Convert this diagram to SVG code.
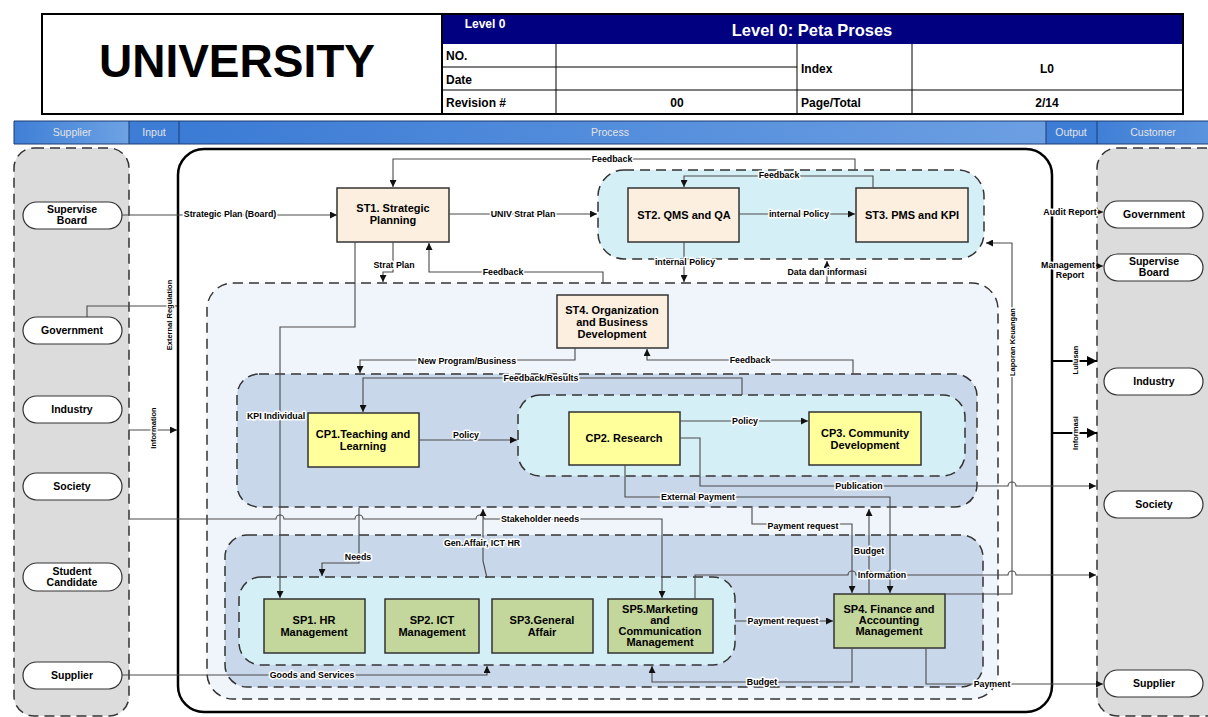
<svg xmlns="http://www.w3.org/2000/svg" width="1208" height="717" viewBox="0 0 1208 717">
<defs>
  <style>
    .t{font-family:"Liberation Sans",Arial,sans-serif;font-weight:bold;fill:#000}
    .bx{font-size:11px;text-anchor:middle}
    .pl{font-size:10.5px;text-anchor:middle}
    .lb{font-family:"Liberation Sans",Arial,sans-serif;font-weight:bold;font-size:8.8px;fill:#000;text-anchor:middle;stroke:#fff;stroke-width:3;paint-order:stroke;stroke-linejoin:round}
    .rl{font-size:7.5px}
    .band{font-family:"Liberation Sans",Arial,sans-serif;font-size:10.5px;fill:#e4e4e4;text-anchor:middle}
    .lane{fill:#dcdcdc;stroke:#333;stroke-width:1.5;stroke-dasharray:10 6}
    .pill{fill:#fff;stroke:#333;stroke-width:1.2}
    .dash{stroke:#333;stroke-width:1.5;stroke-dasharray:10 6}
    .st{fill:#fcefdf;stroke:#333;stroke-width:1.5}
    .cp{fill:#ffff9c;stroke:#333;stroke-width:1.5}
    .sp{fill:#c3d69b;stroke:#333;stroke-width:1.5}
    .c{fill:none;stroke:#4a4a4a;stroke-width:1.1}
    .a{marker-end:url(#ah)}
    .thick{fill:none;stroke:#000;stroke-width:2;marker-end:url(#ahb)}
  </style>
  <marker id="ah" viewBox="0 0 10 10" refX="10" refY="5" markerWidth="7" markerHeight="7" markerUnits="userSpaceOnUse" orient="auto">
    <path d="M0,0 L10,5 L0,10 z" fill="#111"/>
  </marker>
  <marker id="ahb" viewBox="0 0 10 10" refX="10" refY="5" markerWidth="11" markerHeight="10" markerUnits="userSpaceOnUse" orient="auto">
    <path d="M0,0 L10,5 L0,10 z" fill="#000"/>
  </marker>
  <linearGradient id="gSup" x1="0" x2="1" y1="0" y2="0">
    <stop offset="0" stop-color="#3f7fd6"/><stop offset="1" stop-color="#6ea2e4"/>
  </linearGradient>
  <linearGradient id="gProc" x1="0" x2="1" y1="0" y2="0">
    <stop offset="0" stop-color="#3b7bd5"/><stop offset="1" stop-color="#6c9fe2"/>
  </linearGradient>
  <linearGradient id="gCus" x1="0" x2="1" y1="0" y2="0">
    <stop offset="0" stop-color="#3f7fd6"/><stop offset="1" stop-color="#5b93de"/>
  </linearGradient>
</defs>

<rect width="1208" height="717" fill="#fff"/>

<!-- Title block -->
<g id="title">
  <rect x="42" y="14" width="400" height="100" fill="#fff" stroke="#000" stroke-width="2"/>
  <text class="t" x="237" y="77" font-size="46" text-anchor="middle">UNIVERSITY</text>
</g>

<!-- Document info table -->
<g id="doc-table">
  <rect x="442" y="14" width="741" height="30" fill="#000080"/>
  <text x="485" y="28" font-family="Liberation Sans,Arial,sans-serif" font-weight="bold" font-size="12" fill="#fff" text-anchor="middle">Level 0</text>
  <text x="812" y="36" font-family="Liberation Sans,Arial,sans-serif" font-weight="bold" font-size="16.5" fill="#fff" text-anchor="middle">Level 0: Peta Proses</text>
  <rect x="442" y="44" width="741" height="70" fill="#fff" stroke="none"/>
  <g stroke="#000" stroke-width="1" fill="none">
    <line x1="442" y1="67" x2="797" y2="67"/>
    <line x1="442" y1="90" x2="1183" y2="90"/>
    <line x1="556" y1="44" x2="556" y2="114"/>
    <line x1="797" y1="44" x2="797" y2="114"/>
    <line x1="912" y1="44" x2="912" y2="114"/>
  </g>
  <rect x="442" y="14" width="741" height="100" fill="none" stroke="#000" stroke-width="2"/>
  <g class="t" font-size="12">
    <text x="446" y="60">NO.</text>
    <text x="446" y="84">Date</text>
    <text x="446" y="107">Revision #</text>
    <text x="801" y="73">Index</text>
    <text x="801" y="107">Page/Total</text>
    <text x="1047" y="73" text-anchor="middle">L0</text>
    <text x="677" y="107" text-anchor="middle">00</text>
    <text x="1047" y="107" text-anchor="middle">2/14</text>
  </g>
</g>

<!-- Swimlane header band -->
<g id="band">
  <rect x="14" y="121" width="115" height="23" fill="url(#gSup)"/>
  <rect x="129" y="121" width="50" height="23" fill="#3d7dd6"/>
  <rect x="179" y="121" width="867" height="23" fill="url(#gProc)"/>
  <rect x="1046" y="121" width="51" height="23" fill="#3d7dd6"/>
  <rect x="1097" y="121" width="111" height="23" fill="url(#gCus)"/>
  <g stroke="#1d3d72" stroke-width="1">
    <line x1="14" y1="121" x2="1208" y2="121"/>
    <line x1="14" y1="144" x2="1208" y2="144"/>
    <line x1="14" y1="121" x2="14" y2="144"/>
    <line x1="129" y1="121" x2="129" y2="144"/>
    <line x1="179" y1="121" x2="179" y2="144"/>
    <line x1="1046" y1="121" x2="1046" y2="144"/>
    <line x1="1097" y1="121" x2="1097" y2="144"/>
  </g>
  <text class="band" x="72" y="136">Supplier</text>
  <text class="band" x="154" y="136">Input</text>
  <text class="band" x="610" y="136">Process</text>
  <text class="band" x="1071" y="136">Output</text>
  <text class="band" x="1153" y="136">Customer</text>
</g>

<!-- Supplier lane -->
<g id="supplier-lane">
  <rect class="lane" x="14" y="148" width="115" height="568" rx="20"/>
</g>
<!-- Customer lane -->
<g id="customer-lane">
  <rect class="lane" x="1097" y="148" width="130" height="568" rx="20"/>
</g>

<!-- Process frame -->
<g id="process-frame">
  <rect x="178" y="149" width="874" height="563" rx="26" fill="#fff" stroke="#000" stroke-width="2.5"/>
</g>

<!-- Containers -->
<g id="st-group">
  <rect x="598" y="170" width="386" height="89" rx="26" fill="#d5eff6" class="dash"/>
</g>
<g id="main-group">
  <rect x="207" y="283" width="791" height="416" rx="26" fill="#f0f5fb" class="dash"/>
</g>
<g id="cp-group">
  <rect x="237" y="374" width="740" height="133" rx="22" fill="#c9d7ea" class="dash"/>
  <rect x="518" y="395" width="447" height="81" rx="22" fill="#d5eff6" class="dash"/>
</g>
<g id="sp-group">
  <rect x="225" y="535" width="758" height="152" rx="22" fill="#c9d7ea" class="dash"/>
  <rect x="239" y="577" width="496" height="88" rx="22" fill="#d5eff6" class="dash"/>
</g>

<!-- Supplier nodes -->
<g id="sup-supervise"><rect class="pill" x="23" y="202" width="99" height="27" rx="13.5"/><text class="t pl" x="72" y="213">Supervise</text><text class="t pl" x="72" y="224">Board</text></g>
<g id="sup-government"><rect class="pill" x="23" y="317" width="99" height="27" rx="13.5"/><text class="t pl" x="72" y="334">Government</text></g>
<g id="sup-industry"><rect class="pill" x="23" y="396" width="99" height="27" rx="13.5"/><text class="t pl" x="72" y="413">Industry</text></g>
<g id="sup-society"><rect class="pill" x="23" y="473" width="99" height="27" rx="13.5"/><text class="t pl" x="72" y="490">Society</text></g>
<g id="sup-student"><rect class="pill" x="23" y="563" width="99" height="28" rx="14"/><text class="t pl" x="72" y="575">Student</text><text class="t pl" x="72" y="586">Candidate</text></g>
<g id="sup-supplier"><rect class="pill" x="23" y="662" width="99" height="27" rx="13.5"/><text class="t pl" x="72" y="679">Supplier</text></g>

<!-- Customer nodes -->
<g id="cus-government"><rect class="pill" x="1104" y="201" width="99" height="27" rx="13.5"/><text class="t pl" x="1154" y="218">Government</text></g>
<g id="cus-supervise"><rect class="pill" x="1104" y="254" width="99" height="27" rx="13.5"/><text class="t pl" x="1154" y="265">Supervise</text><text class="t pl" x="1154" y="276">Board</text></g>
<g id="cus-industry"><rect class="pill" x="1104" y="368" width="99" height="27" rx="13.5"/><text class="t pl" x="1154" y="385">Industry</text></g>
<g id="cus-society"><rect class="pill" x="1104" y="491" width="99" height="27" rx="13.5"/><text class="t pl" x="1154" y="508">Society</text></g>
<g id="cus-supplier"><rect class="pill" x="1104" y="670" width="99" height="27" rx="13.5"/><text class="t pl" x="1154" y="687">Supplier</text></g>

<!-- Strategic processes -->
<g id="st1"><rect class="st" x="337" y="188" width="112" height="54"/><text class="t bx" x="393" y="212">ST1. Strategic</text><text class="t bx" x="393" y="224">Planning</text></g>
<g id="st2"><rect class="st" x="628" y="188" width="111" height="54"/><text class="t bx" x="684" y="219">ST2. QMS and QA</text></g>
<g id="st3"><rect class="st" x="856" y="188" width="112" height="54"/><text class="t bx" x="912" y="219">ST3. PMS and KPI</text></g>
<g id="st4"><rect class="st" x="557" y="295" width="111" height="53"/><text class="t bx" x="612" y="314">ST4. Organization</text><text class="t bx" x="612" y="326">and Business</text><text class="t bx" x="612" y="338">Development</text></g>

<!-- Core processes -->
<g id="cp1"><rect class="cp" x="308" y="413" width="111" height="54"/><text class="t bx" x="363" y="438">CP1.Teaching and</text><text class="t bx" x="363" y="450">Learning</text></g>
<g id="cp2"><rect class="cp" x="569" y="412" width="111" height="53"/><text class="t bx" x="624" y="442">CP2. Research</text></g>
<g id="cp3"><rect class="cp" x="809" y="412" width="112" height="53"/><text class="t bx" x="865" y="437">CP3. Community</text><text class="t bx" x="865" y="449">Development</text></g>

<!-- Support processes -->
<g id="sp1"><rect class="sp" x="264" y="599" width="101" height="54"/><text class="t bx" x="314" y="624">SP1. HR</text><text class="t bx" x="314" y="636">Management</text></g>
<g id="sp2"><rect class="sp" x="385" y="599" width="94" height="54"/><text class="t bx" x="432" y="624">SP2. ICT</text><text class="t bx" x="432" y="636">Management</text></g>
<g id="sp3"><rect class="sp" x="492" y="599" width="101" height="54"/><text class="t bx" x="542" y="624">SP3.General</text><text class="t bx" x="542" y="636">Affair</text></g>
<g id="sp5"><rect class="sp" x="608" y="599" width="105" height="54"/><text class="t bx" x="660" y="613">SP5.Marketing</text><text class="t bx" x="660" y="624">and</text><text class="t bx" x="660" y="635">Communication</text><text class="t bx" x="660" y="646">Management</text></g>
<g id="sp4"><rect class="sp" x="834" y="594" width="111" height="54"/><text class="t bx" x="889" y="613">SP4. Finance and</text><text class="t bx" x="889" y="624">Accounting</text><text class="t bx" x="889" y="635">Management</text></g>

<!-- Connectors -->
<g id="connectors">
  <path class="c a" d="M122,215 H337"/>
  <path class="c a" d="M449,214 H597"/>
  <path class="c a" d="M855,170 V159 H393 V187"/>
  <path class="c a" d="M873,188 V176 H684 V187"/>
  <path class="c a" d="M739,214 H855"/>
  <path class="c a" d="M684,242 V282"/>
  <path class="c a" d="M827,283 V261"/>
  <path class="c a" d="M393,242 V272 H383 V282"/>
  <path class="c a" d="M603,283 V272 H429 V243"/>
  <path class="c a" d="M355,242 V327 H280 V598"/>
  <path class="c a" d="M575,348 V360 H360 V373"/>
  <path class="c a" d="M853,374 V360 H647 V349"/>
  <path class="c a" d="M742,395 V378 H363 V412"/>
  <path class="c a" d="M419,440 H517"/>
  <path class="c a" d="M680,421 H808"/>
  <path class="c a" d="M680,438 H700 V486 H1008 a4,4 0 0 1 8,0 H1096"/>
  <path class="c a" d="M625,465 V497 H890 V593"/>
  <path class="c a" d="M752,508 V524 H852 V593"/>
  <path class="c a" d="M869,594 V509"/>
  <path class="c a" d="M695,599 V575 H848 a4,4 0 0 1 8,0 H865 a4,4 0 0 1 8,0 H886 a4,4 0 0 1 8,0 H1008 a4,4 0 0 1 8,0 H1096"/>
  <path class="c a" d="M945,594 H1012 V243 H986"/>
  <path class="c a" d="M735,621 H833"/>
  <path class="c a" d="M852,648 V682 H652 V666"/>
  <path class="c a" d="M926,648 V684 H1103"/>
  <path class="c a" d="M130,519 H276 a4,4 0 0 1 8,0 H355 a4,4 0 0 1 8,0 H476 a4,4 0 0 1 8,0 H662 V598"/>
  <path class="c a" d="M359,508 V563 H322 V576"/>
  <path class="c a" d="M487,578 L483,561 V509"/>
  <path class="c a" d="M122,675 H487 V666"/>
  <path class="c a" d="M87,317 V306 H177"/>
  <path class="c a" d="M129,430 H177"/>
  <path class="c a" d="M1043,212 H1103"/>
  <path class="c a" d="M1043,266 H1103"/>
  <path class="thick" d="M1052,361 H1097"/>
  <path class="thick" d="M1052,433 H1097"/>
</g>

<!-- Connector labels -->
<g id="labels">
  <text class="lb" x="230" y="217">Strategic Plan (Board)</text>
  <text class="lb" x="523" y="217">UNIV Strat Plan</text>
  <text class="lb" x="612" y="162">Feedback</text>
  <text class="lb" x="779" y="178">Feedback</text>
  <text class="lb" x="799" y="217">internal Policy</text>
  <text class="lb" x="685" y="265">internal Policy</text>
  <text class="lb" x="827" y="275">Data dan informasi</text>
  <text class="lb" x="394" y="268">Strat Plan</text>
  <text class="lb" x="503" y="275">Feedback</text>
  <text class="lb" x="467" y="364">New Program/Business</text>
  <text class="lb" x="750" y="363">Feedback</text>
  <text class="lb" x="541" y="381">Feedback/Results</text>
  <text class="lb" x="276" y="419">KPI Individual</text>
  <text class="lb" x="466" y="438">Policy</text>
  <text class="lb" x="745" y="424">Policy</text>
  <text class="lb" x="859" y="489">Publication</text>
  <text class="lb" x="698" y="500">External Payment</text>
  <text class="lb" x="540" y="522">Stakeholder needs</text>
  <text class="lb" x="358" y="560">Needs</text>
  <text class="lb" x="482" y="546">Gen.Affair, ICT HR</text>
  <text class="lb" x="312" y="678">Goods and Services</text>
  <text class="lb" x="803" y="529">Payment request</text>
  <text class="lb" x="869" y="554">Budget</text>
  <text class="lb" x="882" y="578">Information</text>
  <text class="lb" x="783" y="624">Payment request</text>
  <text class="lb" x="762" y="685">Budget</text>
  <text class="lb" x="992" y="687">Payment</text>
  <text class="lb" x="1070" y="215">Audit Report</text>
  <text class="lb" x="1068" y="268">Management</text>
  <text class="lb" x="1070" y="278">Report</text>
  <text class="lb rl" transform="translate(172,315) rotate(-90)">External Regulation</text>
  <text class="lb rl" transform="translate(156,428) rotate(-90)">Information</text>
  <text class="lb rl" transform="translate(1015,342) rotate(-90)">Laporan Keuangan</text>
  <text class="lb rl" transform="translate(1078,360) rotate(-90)">Lulusan</text>
  <text class="lb rl" transform="translate(1078,433) rotate(-90)">Informasi</text>
</g>
</svg>
